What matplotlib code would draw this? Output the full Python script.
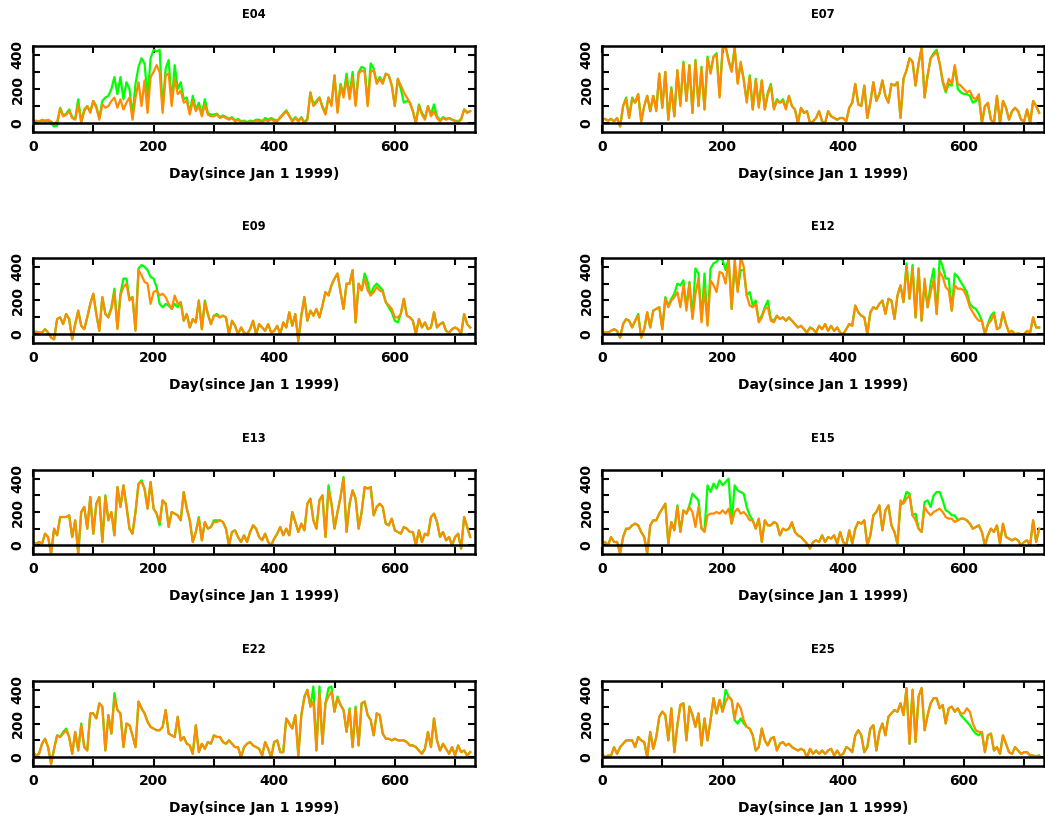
import numpy as np
import matplotlib
matplotlib.use("Agg")
import matplotlib.pyplot as plt
from matplotlib.ticker import MultipleLocator

plt.rcParams["font.family"] = ["DejaVu Sans"]
plt.rcParams["font.weight"] = "bold"

# Sampling days (every 5 days since Jan 1 1999)
days = np.arange(0, 730, 5)

stations = ["E04", "E07", "E09", "E12", "E13", "E15", "E22", "E25"]

# ---- E04 ----
green_e04 = [10, 10, 5, 15, 10, 15, 0, -20, -15, 90, 45, 55, 80, 35, 25, 140, 5, 80, 100, 70,
             130, 100, 30, 130, 150, 160, 200, 270, 170, 270, 140, 240, 200, 40, 230, 330, 380, 350, 150, 380,
             430, 420, 430, 80, 320, 370, 120, 340, 200, 240, 140, 150, 60, 160, 80, 120, 50, 140, 60, 50,
             50, 55, 35, 45, 35, 25, 35, 15, 25, 10, 15, 5, 15, 10, 20, 20, 10, 30, 20, 30,
             20, 15, 35, 55, 75, 45, 15, 35, 15, 35, 5, 25, 180, 110, 130, 150, 100, 60, 150, 110,
             280, 70, 230, 170, 290, 160, 300, 110, 300, 330, 320, 110, 350, 320, 240, 270, 240, 290, 280, 220,
             100, 260, 200, 120, 130, 120, 70, 0, 110, 60, 30, 100, 50, 110, 40, 15, 35, 25, 30, 20,
             15, 10, 25, 80, 65, 70]
orange_e04 = [10, 15, 10, 20, 15, 20, 10, -5, 10, 85, 40, 50, 70, 30, 20, 110, 5, 70, 100, 60,
              130, 90, 20, 110, 90, 100, 130, 150, 90, 140, 80, 120, 150, 20, 150, 240, 100, 250, 60, 270,
              300, 340, 300, 60, 280, 290, 100, 260, 170, 190, 120, 130, 50, 130, 70, 100, 40, 110, 50, 40,
              40, 50, 30, 40, 30, 20, 30, 10, 20, 5, 10, 0, 10, 5, 15, 10, 5, 20, 10, 25,
              10, 10, 30, 50, 70, 40, 10, 30, 10, 30, 0, 20, 180, 100, 120, 150, 90, 50, 150, 100,
              280, 60, 220, 150, 260, 140, 270, 100, 290, 310, 300, 100, 300, 310, 230, 260, 230, 290, 280, 220,
              100, 260, 220, 180, 150, 120, 70, 0, 100, 50, 20, 100, 40, 70, 30, 10, 30, 20, 30, 20,
              10, 5, 20, 80, 60, 70]

# ---- E07 ----
green_e07 = [20, 25, 15, 25, 10, 30, -20, 100, 150, 30, 150, 120, 170, 10, 100, 160, 70, 160, 80, 290,
             90, 300, 20, 210, 40, 310, 110, 360, 130, 340, 60, 370, 100, 330, 80, 390, 300, 390, 410, 160,
             440, 450, 370, 310, 440, 240, 350, 260, 130, 280, 80, 260, 100, 250, 80, 180, 230, 90, 140, 120,
             140, 90, 160, 100, 80, 0, 90, 60, 70, 0, 10, 30, 70, 10, 0, 70, 40, 30, 20, 30,
             30, 10, 90, 120, 230, 110, 100, 220, 30, 120, 240, 130, 170, 250, 160, 120, 230, 220, 240, 30,
             260, 310, 380, 360, 220, 350, 440, 150, 280, 380, 410, 430, 350, 240, 180, 230, 220, 330, 200, 180,
             170, 170, 160, 120, 130, 150, 0, 100, 110, 20, 0, 160, 0, 130, 90, 20, 70, 90, 70, 20,
             10, 80, 0, 130, 100, 60]
orange_e07 = [20, 25, 15, 25, 10, 30, -20, 100, 140, 30, 140, 120, 170, 10, 100, 160, 70, 160, 70, 290,
              90, 300, 20, 200, 40, 310, 100, 350, 130, 340, 60, 360, 100, 320, 80, 380, 290, 390, 400, 150,
              430, 450, 360, 300, 440, 230, 360, 250, 120, 270, 80, 250, 90, 250, 80, 170, 220, 80, 130, 120,
              130, 80, 160, 100, 80, 0, 90, 60, 70, 0, 10, 30, 70, 10, 0, 70, 40, 30, 20, 30,
              30, 10, 90, 120, 230, 110, 100, 220, 30, 120, 240, 130, 170, 250, 160, 120, 230, 220, 240, 30,
              260, 310, 380, 360, 220, 350, 440, 150, 280, 380, 400, 420, 350, 250, 190, 260, 230, 340, 230, 220,
              200, 180, 190, 150, 140, 170, 0, 100, 120, 20, 0, 160, 0, 130, 90, 20, 70, 90, 70, 20,
              10, 80, 0, 130, 100, 60]

# ---- E09 ----
green_e09 = [10, 15, 10, 10, 30, 10, -20, -30, 90, 100, 60, 120, 90, -30, 60, 140, 50, 30, 100, 180,
             240, 120, 20, 220, 120, 100, 160, 270, 40, 240, 330, 330, 210, 220, 30, 390, 410, 400, 380, 340,
             330, 280, 180, 160, 180, 170, 150, 180, 160, 190, 80, 120, 40, 90, 70, 200, 30, 200, 120, 60,
             110, 120, 100, 110, 100, 0, 80, 50, 0, 40, 10, 0, 30, 80, 0, 60, 40, 20, 60, 10,
             20, 50, 0, 70, 40, 130, 50, 120, -40, 110, 220, 80, 140, 110, 150, 100, 170, 250, 230, 290,
             330, 360, 250, 150, 300, 300, 380, 70, 300, 260, 360, 310, 230, 280, 300, 280, 260, 190, 160, 130,
             80, 70, 120, 210, 110, 100, 80, 0, 90, 40, 70, 30, 40, 130, 40, 60, 70, 20, 10, 30,
             40, 30, 0, 120, 60, 40]
orange_e09 = [10, 15, 10, 10, 30, 10, -20, -30, 90, 100, 60, 120, 90, -30, 60, 140, 50, 30, 100, 180,
              240, 120, 20, 220, 120, 100, 150, 250, 30, 230, 280, 300, 200, 220, 20, 380, 350, 310, 300, 180,
              250, 260, 230, 240, 220, 180, 150, 230, 180, 190, 80, 120, 40, 90, 70, 200, 30, 190, 120, 60,
              110, 110, 100, 110, 100, 0, 80, 50, 0, 40, 10, 0, 30, 80, 0, 60, 40, 20, 60, 10,
              20, 50, 0, 70, 40, 130, 50, 120, -40, 110, 220, 80, 140, 110, 150, 100, 170, 250, 230, 290,
              330, 360, 250, 150, 300, 300, 380, 70, 300, 260, 330, 260, 230, 250, 280, 260, 250, 190, 170, 150,
              100, 100, 120, 210, 110, 100, 80, 0, 90, 40, 70, 30, 40, 130, 40, 60, 70, 20, 10, 30,
              40, 30, 0, 120, 60, 40]

# ---- E12 ----
green_e12 = [20, 10, 10, 20, 30, 20, -20, 60, 90, 80, 40, 80, 120, -20, 30, 130, 40, 140, 150, 160,
             30, 220, 170, 210, 240, 300, 290, 320, 160, 310, 100, 390, 360, 90, 360, 60, 390, 420, 430, 450,
             440, 380, 450, 150, 400, 260, 380, 380, 230, 250, 170, 200, 80, 110, 160, 200, 90, 80, 110, 90,
             100, 80, 100, 80, 60, 40, 50, 30, 10, 40, 30, 10, 50, 30, 60, 20, 50, 20, 40, 10,
             0, 30, 60, 50, 170, 130, 110, 100, 0, 130, 160, 150, 180, 200, 120, 210, 200, 90, 230, 290,
             190, 420, 210, 410, 100, 390, 80, 300, 160, 300, 390, 120, 450, 400, 330, 330, 140, 360, 340, 310,
             280, 250, 180, 160, 150, 120, 80, 0, 60, 110, 130, 30, 40, 130, 60, 10, 20, 0, 5, 0,
             0, 20, 10, 100, 40, 40]
orange_e12 = [20, 10, 10, 20, 30, 20, -20, 60, 90, 80, 40, 80, 110, -20, 30, 130, 40, 140, 150, 160,
              30, 210, 160, 200, 220, 250, 160, 290, 140, 300, 90, 240, 330, 70, 270, 50, 320, 290, 250, 370,
              360, 300, 450, 150, 450, 250, 460, 400, 230, 170, 160, 180, 70, 100, 150, 160, 80, 70, 110, 90,
              100, 80, 100, 80, 60, 40, 50, 30, 10, 40, 30, 10, 50, 30, 60, 20, 50, 20, 40, 10,
              0, 30, 60, 50, 170, 130, 110, 100, 0, 130, 160, 150, 180, 200, 120, 210, 200, 90, 230, 290,
              190, 400, 210, 390, 100, 390, 80, 330, 160, 250, 320, 120, 370, 340, 280, 260, 140, 290, 270, 270,
              260, 220, 160, 130, 100, 80, 80, 0, 60, 80, 120, 30, 40, 130, 60, 10, 20, 0, 5, 0,
              0, 20, 10, 100, 40, 40]

# ---- E13 ----
green_e13 = [20, 10, 20, 10, 70, 50, -50, 100, 60, 170, 170, 170, 180, 50, 150, -50, 200, 230, 100, 290,
             70, 250, 290, 20, 300, 150, 200, 60, 350, 230, 360, 240, 100, 70, 200, 370, 390, 340, 220, 380,
             220, 190, 120, 270, 250, 110, 200, 190, 180, 150, 320, 220, 150, 20, 80, 170, 30, 140, 100, 110,
             150, 150, 150, 140, 100, 0, 80, 90, 50, 20, 60, 20, 80, 120, 100, 50, 30, 70, 20, 0,
             40, 70, 110, 60, 100, 60, 200, 140, 80, 130, 90, 250, 280, 150, 100, 270, 300, 50, 360, 250,
             100, 200, 290, 410, 80, 250, 330, 280, 100, 200, 350, 340, 350, 180, 230, 250, 230, 130, 120, 160,
             90, 80, 70, 110, 100, 80, 80, 0, 90, 20, 70, 60, 170, 190, 140, 50, 80, 30, 50, 0,
             50, 70, -20, 170, 110, 50]
orange_e13 = [20, 10, 20, 10, 70, 50, -50, 100, 60, 170, 170, 170, 180, 50, 150, -50, 200, 230, 100, 290,
              70, 250, 290, 20, 290, 150, 200, 60, 350, 230, 360, 230, 100, 70, 200, 370, 380, 340, 220, 380,
              220, 190, 140, 270, 250, 110, 200, 190, 180, 150, 320, 220, 150, 20, 80, 160, 30, 140, 100, 110,
              140, 140, 150, 140, 100, 0, 80, 90, 50, 20, 60, 20, 80, 120, 100, 50, 30, 70, 20, 0,
              40, 70, 110, 60, 100, 60, 200, 140, 80, 130, 90, 250, 280, 150, 100, 270, 300, 50, 330, 250,
              100, 200, 290, 400, 80, 250, 330, 280, 100, 200, 350, 340, 350, 180, 230, 250, 230, 130, 120, 160,
              90, 80, 70, 110, 100, 80, 80, 0, 90, 20, 70, 60, 170, 190, 140, 50, 80, 30, 50, 0,
              50, 70, -20, 170, 110, 50]

# ---- E15 ----
green_e15 = [10, 20, 0, 50, 20, 20, -50, 50, 100, 100, 120, 130, 120, 80, 50, -50, 120, 150, 150, 190,
             220, 250, 10, 140, 90, 240, 80, 210, 190, 240, 310, 290, 270, 100, 90, 360, 320, 370, 340, 390,
             360, 380, 400, 130, 360, 330, 320, 310, 230, 180, 150, 100, 160, 20, 150, 120, 120, 140, 130, 60,
             100, 90, 100, 130, 80, 60, 50, 30, 10, -20, 20, 30, 20, 60, 20, 50, 40, 60, 10, 80,
             20, 0, 90, 10, 100, 140, 130, 150, 0, 60, 180, 200, 240, 90, 210, 240, 120, 80, 10, 240,
             260, 320, 310, 180, 190, 100, 80, 260, 270, 230, 300, 320, 320, 270, 210, 200, 180, 180, 150, 160,
             160, 150, 130, 100, 110, 120, 80, 0, 60, 100, 80, 120, 10, 130, 50, 40, 30, 40, 30, 0,
             20, 30, 0, 150, 20, 100]
orange_e15 = [10, 20, 0, 50, 20, 20, -50, 50, 100, 100, 120, 130, 120, 80, 50, -50, 120, 150, 150, 190,
              220, 250, 10, 140, 90, 230, 80, 210, 190, 230, 200, 110, 230, 100, 80, 180, 190, 190, 200, 190,
              210, 190, 220, 130, 200, 220, 190, 200, 180, 150, 150, 100, 160, 20, 150, 120, 120, 140, 130, 60,
              100, 90, 100, 140, 80, 60, 50, 30, 10, -20, 20, 30, 20, 60, 20, 50, 40, 60, 10, 80,
              20, 0, 90, 10, 100, 140, 130, 150, 0, 60, 180, 200, 240, 90, 210, 240, 120, 80, 10, 270,
              250, 280, 300, 180, 150, 100, 80, 230, 200, 180, 200, 210, 220, 200, 170, 160, 160, 140, 150, 160,
              160, 150, 130, 100, 110, 120, 80, 0, 60, 100, 80, 120, 10, 130, 50, 40, 30, 40, 30, 0,
              20, 30, 0, 150, 20, 100]

# ---- E22 ----
green_e22 = [30, 10, 20, 80, 110, 60, -40, 50, 130, 120, 150, 170, 120, 20, 150, 40, 200, 60, 40, 260,
             260, 230, 320, 300, 40, 250, 140, 380, 280, 260, 60, 200, 190, 130, 60, 330, 290, 260, 210, 180,
             170, 160, 160, 180, 280, 140, 130, 120, 240, 100, 120, 80, 70, 20, 190, 30, 80, 50, 90, 80,
             130, 120, 120, 90, 80, 100, 80, 60, 60, 0, 60, 80, 90, 70, 60, 50, 10, 90, 50, 0,
             90, 100, 30, 30, 230, 200, 170, 250, 10, 250, 360, 400, 300, 420, 40, 420, 80, 320, 410, 420,
             270, 360, 310, 280, 150, 290, 60, 300, 70, 320, 330, 250, 220, 130, 260, 250, 140, 110, 110, 100,
             110, 100, 100, 100, 90, 70, 70, 60, 40, 20, 50, 150, 60, 230, 100, 40, 80, 50, 20, 60,
             10, 70, 30, 40, 10, 30]
orange_e22 = [30, 10, 20, 80, 110, 60, -40, 50, 130, 120, 140, 160, 120, 20, 150, 40, 190, 60, 40, 260,
              260, 230, 320, 300, 40, 250, 140, 350, 280, 260, 60, 200, 190, 130, 60, 330, 290, 260, 210, 180,
              170, 160, 160, 180, 280, 140, 130, 120, 240, 100, 120, 80, 70, 20, 190, 30, 80, 50, 90, 80,
              130, 120, 120, 90, 80, 100, 80, 60, 60, 0, 60, 80, 90, 70, 60, 50, 10, 90, 50, 0,
              90, 100, 30, 30, 230, 200, 170, 250, 10, 250, 350, 400, 300, 330, 40, 380, 80, 320, 360, 390,
              270, 350, 310, 280, 150, 280, 60, 290, 70, 320, 330, 250, 220, 130, 260, 250, 140, 110, 110, 100,
              110, 100, 100, 100, 90, 70, 70, 60, 40, 20, 50, 150, 60, 230, 100, 40, 80, 50, 20, 60,
              10, 70, 30, 40, 10, 30]

# ---- E25 ----
green_e25 = [20, 0, 10, 10, 60, 20, 60, 80, 100, 100, 100, 60, 120, 100, 90, 0, 150, 50, 120, 240,
             270, 250, 100, 290, 30, 190, 310, 320, 100, 300, 250, 180, 260, 70, 230, 100, 220, 350, 260, 340,
             270, 400, 360, 340, 220, 200, 230, 200, 180, 170, 130, 40, 60, 170, 100, 70, 110, 120, 40, 80,
             90, 70, 80, 60, 50, 40, 50, 40, 0, 50, 20, 40, 20, 40, 20, 40, 50, 10, 40, 10,
             20, 60, 50, 30, 130, 160, 130, 30, 60, 170, 190, 40, 150, 200, 130, 240, 260, 280, 270, 320,
             250, 410, 80, 400, 90, 360, 410, 160, 250, 320, 350, 350, 290, 310, 200, 290, 300, 270, 290, 250,
             230, 210, 190, 160, 140, 130, 150, 30, 130, 140, 40, 60, 20, 130, 80, 30, 20, 60, 40, 20,
             30, 30, 10, 10, 5, 10]
orange_e25 = [20, 0, 10, 10, 60, 20, 60, 80, 100, 100, 100, 60, 120, 100, 90, 0, 150, 50, 120, 240,
              270, 250, 100, 290, 30, 190, 310, 320, 100, 300, 250, 180, 260, 70, 230, 100, 220, 350, 260, 340,
              270, 330, 360, 340, 230, 320, 290, 220, 180, 170, 130, 40, 60, 170, 100, 70, 110, 120, 40, 80,
              90, 70, 80, 60, 50, 40, 50, 40, 0, 50, 20, 40, 20, 40, 20, 40, 50, 10, 40, 10,
              20, 60, 50, 30, 130, 160, 130, 30, 60, 170, 190, 40, 150, 200, 130, 240, 260, 280, 270, 320,
              250, 410, 80, 400, 90, 360, 410, 160, 250, 320, 350, 350, 290, 310, 200, 290, 300, 270, 290, 260,
              260, 290, 270, 200, 160, 150, 150, 30, 130, 140, 40, 60, 20, 130, 80, 30, 20, 60, 40, 20,
              30, 30, 10, 10, 5, 10]

green_series = [green_e04, green_e07, green_e09, green_e12,
                green_e13, green_e15, green_e22, green_e25]
orange_series = [orange_e04, orange_e07, orange_e09, orange_e12,
                 orange_e13, orange_e15, orange_e22, orange_e25]

x_ticks_major = [0, 200, 400, 600]
y_ticks_major = [0, 200, 400]

W, H = 1045, 821
fig = plt.figure(figsize=(W / 100, H / 100), dpi=100)

col_left = [33, 602]
col_width = 442
row_top = [46, 258, 470, 681]
row_bottom = [132, 343, 554, 766]

for i, name in enumerate(stations):
    r, c = divmod(i, 2)
    x0 = col_left[c]
    y0, y1 = row_top[r], row_bottom[r]
    ax = fig.add_axes([x0 / W, 1 - y1 / H, col_width / W, (y1 - y0) / H])

    ax.plot(days, green_series[i], color="#00ff00", lw=1.6, zorder=2)
    ax.plot(days, orange_series[i], color="#ff8c00", lw=1.6, zorder=2.5)
    ax.axhline(0, color="black", lw=1.8, zorder=3)

    ax.set_xlim(0, 733)
    ax.set_ylim(-52, 452)
    ax.set_xticks(x_ticks_major)
    ax.xaxis.set_minor_locator(MultipleLocator(100))
    ax.set_yticks(y_ticks_major)
    ax.yaxis.set_minor_locator(MultipleLocator(100))

    ax.tick_params(which="both", direction="in", top=True, right=True,
                   length=5, width=1.5, labelsize=10, pad=6)
    for lab in ax.get_yticklabels():
        lab.set_rotation(90)
        lab.set_va("center")
        lab.set_fontweight("bold")
    for lab in ax.get_xticklabels():
        lab.set_fontweight("bold")

    for sp in ax.spines.values():
        sp.set_linewidth(1.8)

    ax.set_title(name, fontsize=8.3, fontweight="bold", pad=20)
    ax.set_xlabel("Day(since Jan 1 1999)", fontsize=10, fontweight="bold", labelpad=9)

fig.savefig("out.png", dpi=100)
